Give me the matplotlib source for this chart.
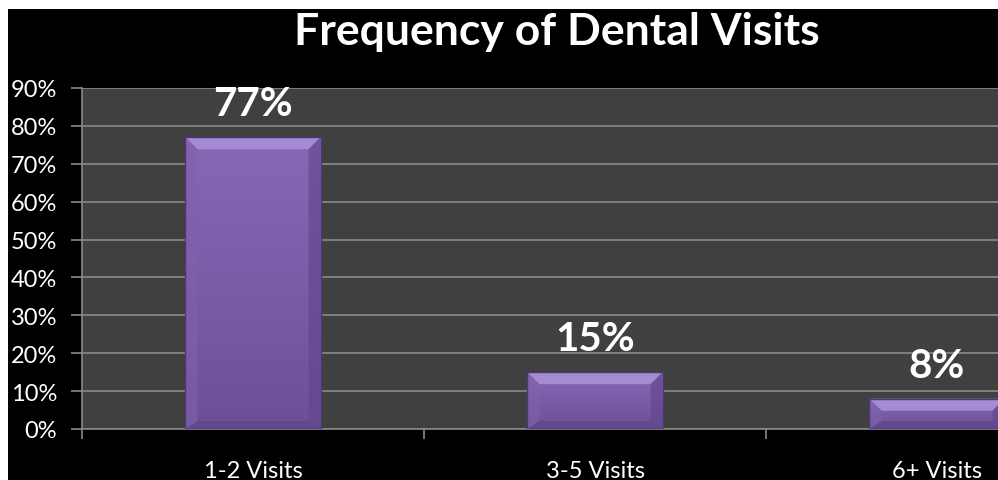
import matplotlib
matplotlib.use("Agg")
import matplotlib.pyplot as plt
import numpy as np
from matplotlib.patches import Polygon, Rectangle
from matplotlib.colors import LinearSegmentedColormap

title = "Frequency of Dental Visits"
categories = ["1-2 Visits", "3-5 Visits", "6+ Visits"]
values = [77, 15, 8]
value_labels = ["77%", "15%", "8%"]
yticks = [0, 10, 20, 30, 40, 50, 60, 70, 80, 90]
ytick_labels = ["0%", "10%", "20%", "30%", "40%", "50%", "60%", "70%", "80%", "90%"]

FONT = ["Lato", "DejaVu Sans"]
plt.rcParams["font.family"] = FONT

W, H = 998, 481
fig = plt.figure(figsize=(W / 100, H / 100), dpi=100, facecolor="white")
fig.patches.append(Rectangle((8 / W, 0), 1, (H - 10) / H, transform=fig.transFigure,
                             facecolor="black", edgecolor="none", zorder=-10))

ax = fig.add_axes([82 / W, 51 / H, 1026 / W, 341 / H])
ax.set_facecolor("#404040")
x = np.arange(len(categories))
ax.set_xlim(-0.5, len(categories) - 0.5)
ax.set_ylim(0, 90)

ax.set_yticks(yticks)
ax.set_yticklabels(ytick_labels)
ax.yaxis.grid(True, color="#8a8a8a", linewidth=1.2, zorder=0)
ax.set_axisbelow(True)
ax.set_xticks(x)
ax.set_xticklabels(categories)
ax.set_xticks(np.arange(len(categories) + 1) - 0.5, minor=True)
ax.tick_params(axis="x", which="major", length=0, pad=22, labelcolor="white", labelsize=17)
ax.tick_params(axis="x", which="minor", length=7, color="#8a8a8a", width=1.2)
ax.tick_params(axis="y", length=8, color="#8a8a8a", width=1.2, pad=10, labelcolor="white", labelsize=17)
for s in ["top", "right"]:
    ax.spines[s].set_visible(False)
for s in ["left", "bottom"]:
    ax.spines[s].set_color("#8a8a8a")
    ax.spines[s].set_linewidth(1.2)

bars = ax.bar(x, values, width=0.395, color="#8264ae", zorder=3)

fig.canvas.draw()
bbox = ax.get_window_extent()
ux = (ax.get_xlim()[1] - ax.get_xlim()[0]) / bbox.width   # data units per pixel
uy = (ax.get_ylim()[1] - ax.get_ylim()[0]) / bbox.height

cmap = LinearSegmentedColormap.from_list("face", ["#8868b6", "#6c4f98"])
for b in bars:
    x0, y0 = b.get_x(), b.get_y()
    x1, y1 = x0 + b.get_width(), y0 + b.get_height()
    grad = np.linspace(0, 1, 256).reshape(-1, 1)
    im = ax.imshow(grad, extent=[x0, x1, y0, y1], origin="upper", cmap=cmap,
                   aspect="auto", zorder=3.5)
    im.set_clip_path(b)
    bx, byt, byb = 12 * ux, 12 * uy, 8 * uy
    ix0, ix1, iyt, iyb = x0 + bx, x1 - bx, y1 - byt, y0 + byb
    if iyt < iyb:
        mid = (iyt + iyb) / 2
        iyt = iyb = mid
    top = Polygon([(x0, y1), (x1, y1), (ix1, iyt), (ix0, iyt)], closed=True,
                  facecolor="#a48bd2", edgecolor="none", zorder=4)
    left = Polygon([(x0, y1), (ix0, iyt), (ix0, iyb), (x0, y0)], closed=True,
                   facecolor="#7f62ab", edgecolor="none", alpha=0.6, zorder=4)
    right = Polygon([(x1, y1), (ix1, iyt), (ix1, iyb), (x1, y0)], closed=True,
                    facecolor="#5e4589", edgecolor="none", alpha=0.6, zorder=4)
    bottom = Polygon([(x0, y0), (x1, y0), (ix1, iyb), (ix0, iyb)], closed=True,
                     facecolor="#5f4589", edgecolor="none", alpha=0.7, zorder=4)
    for p in (top, left, right, bottom):
        ax.add_patch(p)
    ax.add_patch(Polygon([(x0, y0), (x0, y1), (x1, y1), (x1, y0)], closed=True,
                         facecolor="none", edgecolor="#4e3873", linewidth=1, zorder=4.5))

for xi, v, lab in zip(x, values, value_labels):
    ax.annotate(lab, (xi, v), xytext=(0, 15), textcoords="offset pixels",
                ha="center", va="bottom", color="white", fontsize=29,
                fontweight="bold", zorder=6)

fig.text(557 / W, (H - 32) / H, title, ha="center", va="center", color="white",
         fontsize=32, fontweight="bold")

fig.savefig("out.png", dpi=100, facecolor=fig.get_facecolor())
